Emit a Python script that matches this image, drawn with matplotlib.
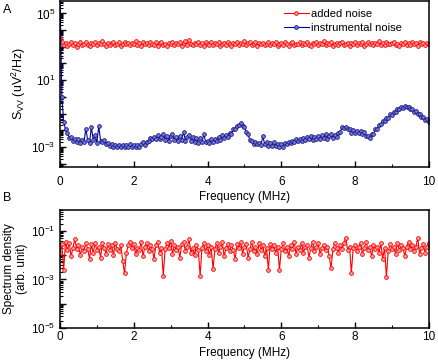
import numpy as np
import matplotlib
matplotlib.use('Agg')
import matplotlib.pyplot as plt
from matplotlib.ticker import LogLocator, FuncFormatter, MultipleLocator, NullFormatter

plt.rcParams['font.family'] = ['Liberation Sans', 'DejaVu Sans']
plt.rcParams['mathtext.fontset'] = 'custom'
plt.rcParams['mathtext.rm'] = 'Liberation Sans'
plt.rcParams['mathtext.it'] = 'Liberation Sans:italic'
plt.rcParams['font.size'] = 8

# log10 of S_VV, added noise (uV^2/Hz)
added_log = [
    3.55, 3.28, 3.12, 3.22, 3.05, 3.18, 3.30, 3.10, 3.20, 2.98,
    3.15, 3.26, 3.08, 3.19, 3.31, 3.12, 3.04, 3.23, 3.16, 3.28,
    3.09, 3.21, 3.14, 3.33, 3.18, 3.06, 3.24, 3.12, 3.20, 3.29,
    3.10, 3.17, 3.26, 3.03, 3.19, 3.30, 3.14, 3.22, 3.08, 3.25,
    3.16, 3.32, 3.11, 3.20, 3.05, 3.27, 3.15, 3.23, 3.09, 3.31,
    3.18, 3.12, 3.26, 3.07, 3.21, 3.29, 3.13, 3.19, 3.04, 3.24,
    3.16, 3.30, 3.10, 3.22, 3.14, 3.27, 3.06, 3.20, 3.32, 3.12,
    3.42, 3.17, 3.08, 3.25, 3.15, 3.29, 3.11, 3.21, 3.05, 3.26,
    3.18, 3.13, 3.31, 3.09, 3.22, 3.16, 3.28, 3.04, 3.19, 3.24,
    3.12, 3.30, 3.15, 3.07, 3.23, 3.18, 3.27, 3.10, 3.21, 3.14,
    3.32, 3.08, 3.20, 3.26, 3.13, 3.17, 3.29, 3.06, 3.23, 3.15,
    3.25, 3.11, 3.19, 3.30, 3.09, 3.22, 3.16, 3.28, 3.03, 3.18,
    3.24, 3.12, 3.31, 3.15, 3.07, 3.21, 3.27, 3.10, 3.19, 3.14,
    3.26, 3.08, 3.22, 3.17, 3.30, 3.12, 3.05, 3.24, 3.18, 3.28,
    3.11, 3.20, 3.15, 3.33, 3.09, 3.23, 3.16, 3.27, 3.06, 3.19,
    3.25, 3.13, 3.21, 3.29, 3.10, 3.18, 3.24, 3.07, 3.20, 3.15,
    3.31, 3.12, 3.22, 3.17, 3.26, 3.04, 3.19, 3.28, 3.14, 3.21,
    3.10, 3.25, 3.16, 3.36, 3.12, 3.20, 3.08, 3.27, 3.18, 3.14,
    3.23, 3.30, 3.11, 3.19, 3.06, 3.24, 3.16, 3.28, 3.13, 3.21,
    3.09, 3.26, 3.17, 3.22, 3.05, 3.29, 3.15, 3.20, 3.12, 3.25,
    3.18,
]

# log10 of S_VV, instrumental noise
instr_log = [
    6.0, 0.0, -1.5, -1.95, -2.15, -2.45, -2.4, -2.65, -2.5, -2.7,
    -2.55, -2.75, -2.6, -2.72, -1.9, -2.6, -2.78, -1.8, -2.58, -2.3,
    -2.75, -1.75, -2.62, -2.7, -2.58, -2.85, -2.78, -2.95, -2.85, -3.0,
    -2.88, -3.0, -2.86, -2.98, -2.9, -3.02, -2.88, -2.99, -2.85, -3.0,
    -2.9, -2.98, -2.86, -3.0, -2.82, -2.7, -2.88, -2.68, -2.62, -2.48,
    -2.55, -2.38, -2.52, -2.3, -2.5, -2.42, -2.2, -2.58, -2.35, -2.62,
    -2.32, -2.2, -2.6, -2.38, -2.65, -2.35, -2.58, -2.1, -2.62, -2.4,
    -2.3, -2.65, -2.42, -2.7, -2.48, -2.75, -2.45, -2.68, -2.25, -2.7,
    -2.62, -2.75, -2.55, -2.7, -2.5, -2.65, -2.4, -2.58, -2.3, -2.45,
    -2.3, -2.38, -2.15, -2.2, -1.95, -1.9, -1.72, -1.68, -1.58, -1.75,
    -1.8, -2.1, -2.25, -2.6, -2.65, -2.8, -2.72, -2.85, -2.75, -2.9,
    -2.35, -2.85, -2.7, -2.95, -2.78, -2.92, -2.72, -2.95, -2.85, -2.98,
    -2.8, -3.0, -2.75, -2.85, -2.7, -2.78, -2.62, -2.72, -2.55, -2.65,
    -2.5, -2.62, -2.45, -2.6, -2.42, -2.55, -2.35, -2.58, -2.4, -2.52,
    -2.35, -2.5, -2.3, -2.48, -2.25, -2.5, -2.32, -2.22, -2.45, -2.28,
    -2.4, -2.15, -2.1, -1.8, -1.88, -1.78, -1.95, -1.9, -2.15, -2.0,
    -2.18, -2.05, -2.15, -2.02, -2.25, -2.1, -2.35, -2.32, -2.48, -2.25,
    -2.2, -1.95, -1.9, -1.7, -1.65, -1.45, -1.45, -1.25, -1.25, -1.05,
    -1.1, -0.9, -0.9, -0.72, -0.75, -0.6, -0.65, -0.52, -0.62, -0.58,
    -0.75, -0.7, -0.9, -0.85, -1.05, -1.05, -1.2, -1.2, -1.4, -1.35,
    -1.5,
]

# log10 of spectrum density, panel B
spec_log = [
    -1.9, -1.55, -2.6, -1.45, -1.8, -1.5, -2.05, -1.7, -1.35, -1.75,
    -1.6, -2.0, -1.65, -1.85, -1.5, -1.75, -2.15, -1.55, -1.9, -1.5,
    -1.8, -1.65, -2.1, -1.5, -1.7, -1.95, -1.55, -1.8, -1.6, -2.0,
    -1.5, -1.75, -1.85, -1.6, -2.25, -2.75, -1.9, -1.6, -1.45, -1.7,
    -1.55, -1.95, -1.7, -1.8, -1.45, -2.05, -1.65, -1.5, -1.85, -1.6,
    -1.75, -2.15, -1.6, -1.45, -1.9, -1.7, -2.84, -1.75, -1.5, -1.7,
    -1.4, -1.95, -1.6, -1.8, -1.65, -2.1, -1.55, -1.45, -1.85, -1.65,
    -1.35, -1.9, -1.7, -2.0, -1.6, -1.8, -2.84, -1.7, -1.5, -1.85,
    -1.6, -2.0, -1.65, -2.57, -1.75, -1.5, -1.9, -1.65, -1.45, -2.05,
    -1.7, -1.55, -1.85, -1.6, -1.8, -2.15, -1.55, -1.7, -1.45, -1.95,
    -1.65, -1.55, -2.1, -1.75, -1.45, -1.85, -1.65, -1.95, -1.5, -1.8,
    -1.6, -2.05, -1.7, -2.6, -1.55, -1.75, -1.6, -1.9, -1.65, -2.6,
    -1.75, -1.5, -1.85, -1.65, -2.05, -1.6, -1.75, -1.45, -1.95, -1.65,
    -1.8, -1.5, -1.9, -1.65, -1.6, -2.1, -1.7, -1.45, -1.85, -1.65,
    -1.5, -1.95, -1.7, -1.6, -1.8, -1.65, -2.05, -2.54, -1.75, -1.5,
    -1.7, -1.9, -1.6, -1.75, -1.5, -1.28, -1.8, -1.65, -2.73, -1.7,
    -1.6, -1.85, -1.65, -1.5, -1.95, -1.7, -1.45, -1.8, -1.65, -2.05,
    -1.6, -1.75, -1.65, -1.9, -1.5, -2.15, -1.7, -2.9, -1.85, -1.55,
    -1.75, -1.65, -1.95, -1.5, -1.8, -1.6, -1.7, -2.05, -1.65, -1.45,
    -1.75, -1.6, -1.85, -1.65, -1.3, -1.95, -1.7, -1.55, -1.9, -1.65,
    -1.5,
]

added = 10 ** np.array(added_log)
instr = 10 ** np.array(instr_log)
spec = 10 ** np.array(spec_log)
f_added = np.linspace(0, 10, len(added))
f_instr = np.linspace(0, 10, len(instr))
f_spec = np.linspace(0, 10, len(spec))


def label_fmt(shown):
    def fmt(v, pos):
        e = int(round(np.log10(v)))
        return r'$\mathregular{10^{%d}}$' % e if e in shown else ''
    return FuncFormatter(fmt)


def style_axis(ax, shown, xpad, labelpad):
    ax.set_xlim(0, 10)
    ax.xaxis.set_major_locator(MultipleLocator(2))
    ax.xaxis.set_minor_locator(MultipleLocator(1))
    ax.yaxis.set_major_locator(LogLocator(base=10, numticks=30))
    ax.yaxis.set_minor_locator(LogLocator(base=10, subs=np.arange(2, 10), numticks=30))
    ax.yaxis.set_major_formatter(label_fmt(shown))
    ax.yaxis.set_minor_formatter(NullFormatter())
    ax.tick_params(which='both', direction='in', top=False, right=False, labelsize=8.5)
    ax.tick_params(axis='x', pad=xpad)
    ax.tick_params(which='major', length=4, width=1)
    ax.tick_params(which='minor', length=2, width=0.8)
    for s in ax.spines.values():
        s.set_linewidth(1.1)
    ax.set_xlabel('Frequency (MHz)', fontsize=8.5, labelpad=labelpad)


style_red = dict(color='#ff0000', lw=0.8, marker='o', ms=2.7, mfc='#ff9c9c',
                 mec='#ff0000', mew=0.6)
style_blue = dict(color='#0000a0', lw=0.8, marker='o', ms=2.7, mfc='#7878d0',
                  mec='#16168c', mew=0.6)

fig = plt.figure(figsize=(4.38, 3.61), dpi=100)
ax1 = fig.add_axes([0.137, 0.538, 0.842, 0.460])
ax2 = fig.add_axes([0.137, 0.0914, 0.842, 0.327])

ax1.set_yscale('log')
ax1.plot(f_added, added, label='added noise', **style_red)
ax1.plot(f_instr, instr, label='instrumental noise', **style_blue)
ax1.set_ylim(10 ** -4.19, 10 ** 5.76)
style_axis(ax1, (-3, 1, 5), xpad=6.5, labelpad=2.5)
ax1.set_ylabel(r'S$_\mathregular{VV}$ (uV$^\mathregular{2}$/Hz)', fontsize=9, labelpad=2)
ax1.legend(loc='upper right', bbox_to_anchor=(0.955, 1.01), frameon=False,
           fontsize=8, handlelength=2.3, handletextpad=0.2, labelspacing=0.35)

ax2.set_yscale('log')
ax2.plot(f_spec, spec, **style_red)
ax2.set_ylim(1e-5, 10 ** -0.14)
style_axis(ax2, (-5, -3, -1), xpad=2.5, labelpad=2.5)
ax2.set_ylabel('Spectrum density\n(arb. unit)', fontsize=8.5, labelpad=2, linespacing=1.1)

fig.text(0.006, 0.99, 'A', fontsize=9, va='top')
fig.text(0.006, 0.469, 'B', fontsize=9, va='top')

fig.savefig('out.png', dpi=100)
